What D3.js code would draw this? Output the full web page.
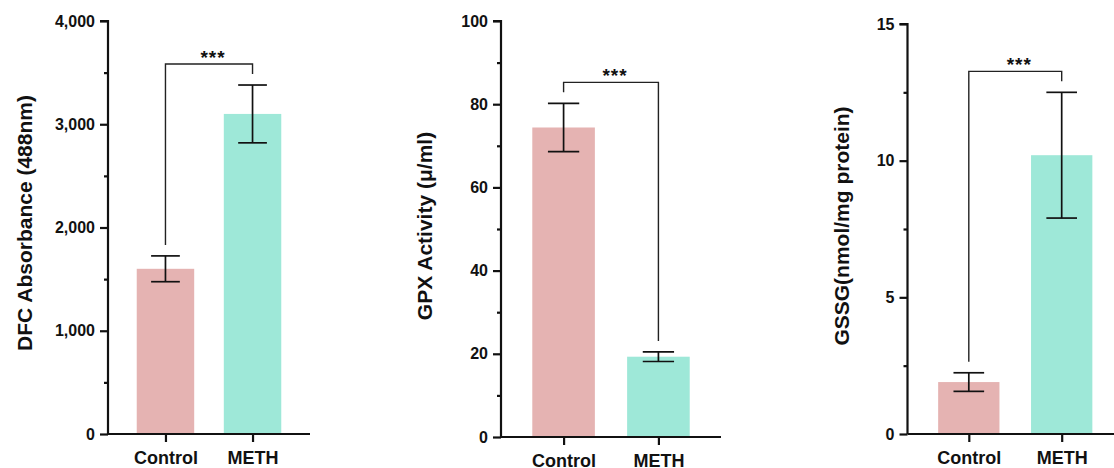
<!DOCTYPE html>
<html>
<head>
<meta charset="utf-8">
<script src="https://cdn.jsdelivr.net/npm/d3@7/dist/d3.min.js"></script>
<style>
  html, body { margin: 0; padding: 0; background: #fff; }
  svg { display: block; }
  text { font-family: "Liberation Sans", Arial, Helvetica, sans-serif; font-weight: bold; fill: #111; }
</style>
</head>
<body>
<svg id="chart" width="1114" height="468"></svg>
<script>
// ---- data ----
const categories = ["Control", "METH"];

const dfcMean = [1600, 3100];
const dfcErr  = [125, 280];
const gpxMean = [74.4, 19.3];
const gpxErr  = [5.8, 1.15];
const gssgMean = [1.9, 10.2];
const gssgErr  = [0.34, 2.3];

const dfcTicks  = [0, 1000, 2000, 3000, 4000];
const dfcMinor  = [500, 1500, 2500, 3500];
const gpxTicks  = [0, 20, 40, 60, 80, 100];
const gpxMinor  = [10, 30, 50, 70, 90];
const gssgTicks = [0, 5, 10, 15];
const gssgMinor = [2.5, 7.5, 12.5];

const yLabels = ["DFC Absorbance (488nm)", "GPX Activity (\u03bc/ml)", "GSSG(nmol/mg protein)"];
const sigLabels = ["***", "***", "***"];

const barColors = ["#e5b3b2", "#9ee8d8"];

// ---- layout (positions only) ----
const panels = [
  { mean: dfcMean, err: dfcErr, ticks: dfcTicks, minor: dfcMinor, max: 4000, fmt: d3.format(","),
    x0: 108, x1: 310, yTop: 21, yBot: 434, labX: 32, labY: 223 },
  { mean: gpxMean, err: gpxErr, ticks: gpxTicks, minor: gpxMinor, max: 100, fmt: d3.format("d"),
    x0: 501, x1: 721, yTop: 21, yBot: 437, labX: 431.5, labY: 226 },
  { mean: gssgMean, err: gssgErr, ticks: gssgTicks, minor: gssgMinor, max: 15, fmt: d3.format("d"),
    x0: 907.5, x1: 1123, yTop: 24, yBot: 434, labX: 849, labY: 226 }
];

const svg = d3.select("#chart");

panels.forEach((p, i) => {
  const g = svg.append("g");
  const x = d3.scalePoint().domain(categories).range([p.x0, p.x1]).padding(0.66);
  const y = d3.scaleLinear().domain([0, p.max]).range([p.yBot, p.yTop]);
  const step = x.step();
  const bw = step * 0.66;
  const cap = bw * 0.5;

  // bars
  g.selectAll("rect.bar").data(categories).enter().append("rect")
    .attr("x", d => x(d) - bw / 2)
    .attr("width", bw)
    .attr("y", (d, j) => y(p.mean[j]))
    .attr("height", (d, j) => y(0) - y(p.mean[j]))
    .attr("fill", (d, j) => barColors[j]);

  // error bars
  categories.forEach((c, j) => {
    const cx = x(c);
    const top = y(p.mean[j] + p.err[j]);
    const bot = y(p.mean[j] - p.err[j]);
    const eg = g.append("g").attr("stroke", "#111").attr("stroke-width", 1.7);
    eg.append("line").attr("x1", cx).attr("x2", cx).attr("y1", top).attr("y2", bot);
    eg.append("line").attr("x1", cx - cap / 2).attr("x2", cx + cap / 2).attr("y1", top).attr("y2", top);
    eg.append("line").attr("x1", cx - cap / 2).attr("x2", cx + cap / 2).attr("y1", bot).attr("y2", bot);
  });

  // significance bracket
  const legEnd = categories.map((c, j) => y(p.mean[j] + p.err[j]) - 11);
  const hy = Math.min(...legEnd) - 10;
  const xa = x(categories[0]), xb = x(categories[1]);
  g.append("path")
    .attr("d", `M${xa},${legEnd[0]}V${hy}H${xb}V${legEnd[1]}`)
    .attr("fill", "none").attr("stroke", "#222").attr("stroke-width", 1.4);
  g.append("text")
    .attr("x", (xa + xb) / 2 + 4)
    .attr("y", hy - 0.5)
    .attr("text-anchor", "middle")
    .style("font-size", "19px")
    .style("letter-spacing", "1px")
    .text(sigLabels[i]);

  // y axis
  const yAxis = d3.axisLeft(y).tickValues(p.ticks).tickFormat(p.fmt).tickSize(8).tickPadding(5);
  const ya = g.append("g").attr("transform", `translate(${p.x0},0)`).call(yAxis);
  ya.select(".domain").attr("d", `M-8,${p.yTop}H0V${p.yBot}`);
  ya.selectAll("line").attr("stroke-width", 2.2).attr("stroke", "#111");
  ya.select(".domain").attr("stroke-width", 2.2).attr("stroke", "#111");
  ya.selectAll("text").style("font-size", "16px").attr("fill", "#111");
  ya.attr("font-family", null);

  const yMinor = d3.axisLeft(y).tickValues(p.minor).tickFormat("").tickSize(4);
  const ym = g.append("g").attr("transform", `translate(${p.x0},0)`).call(yMinor);
  ym.select(".domain").remove();
  ym.selectAll("line").attr("stroke-width", 2.2).attr("stroke", "#111");

  // x axis
  const xAxis = d3.axisBottom(x).tickSize(8).tickPadding(9);
  const xg = g.append("g").attr("transform", `translate(0,${p.yBot})`).call(xAxis);
  xg.select(".domain").attr("d", `M${p.x0},0H${p.x1}`).attr("stroke-width", 2.2).attr("stroke", "#111");
  xg.selectAll("line").attr("stroke-width", 2.2).attr("stroke", "#111");
  xg.selectAll("text").style("font-size", "18px").attr("fill", "#111");
  xg.attr("font-family", null);

  // y label
  g.append("text")
    .attr("transform", `translate(${p.labX},${p.labY}) rotate(-90)`)
    .attr("text-anchor", "middle")
    .style("font-size", "21px")
    .text(yLabels[i]);
});
</script>
</body>
</html>
